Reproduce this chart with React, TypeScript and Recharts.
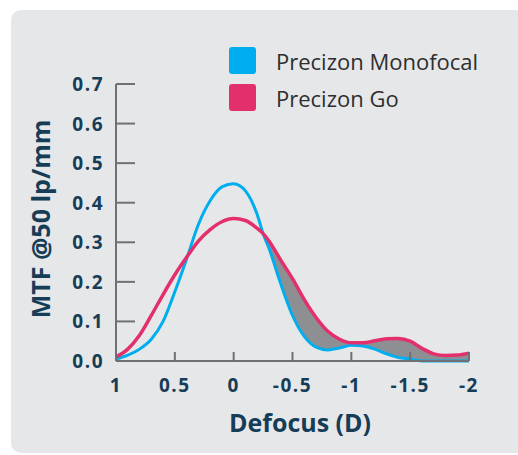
import React from 'react';
import {
  ComposedChart,
  Line,
  Area,
  XAxis,
  YAxis,
} from 'recharts';

const defocus = [1, 0.9, 0.8, 0.7, 0.6, 0.5, 0.4, 0.3, 0.2, 0.1, 0, -0.1, -0.2, -0.25, -0.3, -0.4, -0.5, -0.6, -0.7, -0.8, -0.9, -1.0, -1.1, -1.2, -1.3, -1.4, -1.5, -1.6, -1.7, -1.8, -1.9, -2.0];
const monofocal = [0.005, 0.015, 0.03, 0.055, 0.1, 0.175, 0.258, 0.345, 0.405, 0.44, 0.448, 0.43, 0.37, 0.322, 0.285, 0.195, 0.115, 0.062, 0.035, 0.028, 0.033, 0.04, 0.038, 0.03, 0.018, 0.009, 0.005, 0, 0, 0, 0, 0];
const go = [0.01, 0.03, 0.065, 0.115, 0.168, 0.218, 0.262, 0.303, 0.332, 0.352, 0.36, 0.355, 0.335, 0.322, 0.303, 0.255, 0.208, 0.155, 0.11, 0.075, 0.055, 0.046, 0.046, 0.051, 0.056, 0.057, 0.05, 0.032, 0.018, 0.014, 0.015, 0.02];

const xTicks = [1, 0.5, 0, -0.5, -1, -1.5, -2];
const yTicks = [0, 0.1, 0.2, 0.3, 0.4, 0.5, 0.6, 0.7];
// gray band only where Go sits above Monofocal on the minus side
const bandFrom = -0.25;

const seriesNames = ['Precizon Monofocal', 'Precizon Go'];
const BLUE = '#00aeef';
const PINK = '#e3306c';
const NAVY = '#163d57';
const AXIS = '#6d7075';
const FONT = '"Open Sans", sans-serif';

const data = defocus.map((d, i) => ({
  d,
  mono: monofocal[i],
  go: go[i],
  band: d <= bandFrom ? [monofocal[i], go[i]] : null,
}));

const fmtX = (v: number) => (v === 0 ? '0' : String(v));

const XTick = (props: any) => {
  const { x, y, payload } = props;
  return (
    <g>
      <line x1={x} y1={y} x2={x} y2={y - 9} stroke={AXIS} strokeWidth={2} />
      <text x={x} y={y + 31} textAnchor="middle" fill={NAVY} fontFamily={FONT} fontWeight={700} fontSize={19} letterSpacing={1.5}>
        {fmtX(payload.value)}
      </text>
    </g>
  );
};

const YTick = (props: any) => {
  const { x, y, payload } = props;
  return (
    <g>
      <line x1={x} y1={y} x2={x + 19} y2={y} stroke={AXIS} strokeWidth={2} />
      <text x={x - 12} y={y + 7} textAnchor="end" fill={NAVY} fontFamily={FONT} fontWeight={700} fontSize={19} letterSpacing={1.5}>
        {payload.value.toFixed(1)}
      </text>
    </g>
  );
};

export default function App() {
  return (
    <div style={{ position: 'absolute', left: 0, top: 0, width: 518, height: 455, background: '#fff', overflow: 'hidden' }}>
      <div style={{ position: 'absolute', left: 11, top: 10, width: 530, height: 443, borderRadius: 10, background: '#e6e7e9' }} />
      <div style={{ position: 'absolute', left: 229, top: 42, fontFamily: FONT, fontSize: 22, fontWeight: 500, color: '#2e2e2e' }}>
        {seriesNames.map((name, i) => (
          <div key={name} style={{ display: 'flex', alignItems: 'center', height: 37 }}>
            <div style={{ width: 27, height: 27, borderRadius: 3, background: i === 0 ? BLUE : PINK, marginRight: 20 }} />
            <span>{name}</span>
          </div>
        ))}
      </div>
      <div style={{ position: 'absolute', left: 0, top: 0 }}>
        <ComposedChart width={518} height={455} data={data} margin={{ top: 84, right: 49, bottom: 64, left: 56 }}>
          <XAxis
            dataKey="d"
            type="number"
            domain={[-2, 1]}
            reversed
            ticks={xTicks}
            interval={0}
            height={30}
            tickSize={0}
            tickMargin={0}
            tickLine={false}
            tick={<XTick />}
            stroke={AXIS}
            strokeWidth={2}
            label={{
              content: () => (
                <text x={300} y={432} textAnchor="middle" fill={NAVY} fontFamily={FONT} fontWeight={700} fontSize={25}>
                  Defocus (D)
                </text>
              ),
            }}
          />
          <YAxis
            type="number"
            domain={[0, 0.7]}
            ticks={yTicks}
            interval={0}
            width={60}
            tickSize={0}
            tickMargin={0}
            tickLine={false}
            tick={<YTick />}
            stroke={AXIS}
            strokeWidth={2}
            label={{
              content: () => (
                <text x={50} y={219} transform="rotate(-90 50 219)" textAnchor="middle" fill={NAVY} fontFamily={FONT} fontWeight={700} fontSize={25}>
                  MTF @50 lp/mm
                </text>
              ),
            }}
          />
          <Area dataKey="band" type="monotone" fill="#8e8f93" fillOpacity={1} stroke="none" isAnimationActive={false} activeDot={false} />
          <Line dataKey="mono" type="monotone" stroke={BLUE} strokeWidth={3} dot={false} activeDot={false} isAnimationActive={false} />
          <Line dataKey="go" type="monotone" stroke={PINK} strokeWidth={3.5} dot={false} activeDot={false} isAnimationActive={false} />
        </ComposedChart>
      </div>
    </div>
  );
}
